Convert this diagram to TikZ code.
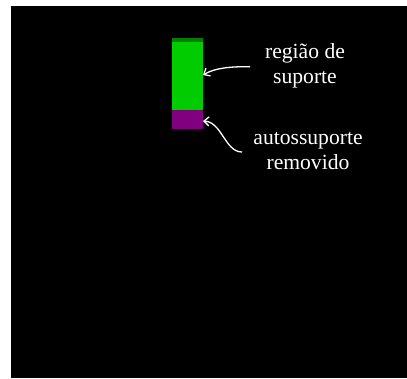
\documentclass[tikz,border=0pt]{standalone}
\usepackage{fontspec}
\setmainfont{Liberation Serif}
\usetikzlibrary{arrows.meta}
\definecolor{bggreen}{RGB}{0,204,0}
\definecolor{topgreen}{RGB}{0,128,0}
\definecolor{purp}{RGB}{128,0,128}
\tikzset{
  lbl/.style={text=white, align=center, inner sep=0pt, font=\fontsize{21.6}{24.5}\selectfont},
  pointer/.style={draw=white, line width=1.3pt, -{Straight Barb[length=5pt,width=9pt]}},
  blk/.style={inner sep=0pt, outer sep=0pt, draw=none}
}
\begin{document}
\begin{tikzpicture}[x=1pt,y=-1pt]
\useasboundingbox (0,0) rectangle (407,378);
\fill[white] (0,0) rectangle (407,378);
\fill[black] (11,6) rectangle (407,378);
\node[blk, fill=bggreen, minimum width=31pt, minimum height=72pt, anchor=north west] (sup) at (172,38) {};
\node[blk, fill=topgreen, minimum width=31pt, minimum height=4pt, anchor=north west] (top) at (172,38) {};
\node[blk, fill=purp, minimum width=31pt, minimum height=19pt, anchor=north west] (auto) at (172,110) {};
\node[lbl] (t1) at (305,66) {região de\\suporte};
\node[lbl] (t2) at (308,151) {autossuporte\\removido};
\coordinate (s1) at (250,66.7);
\coordinate (s2) at (242,152);
\draw[pointer] (s1) .. controls (230,66.5) and (215,68) .. (sup.east |- 0,75);
\draw[pointer] (s2) .. controls (225,152) and (222,122) .. (auto.east |- 0,121);
\end{tikzpicture}
\end{document}
